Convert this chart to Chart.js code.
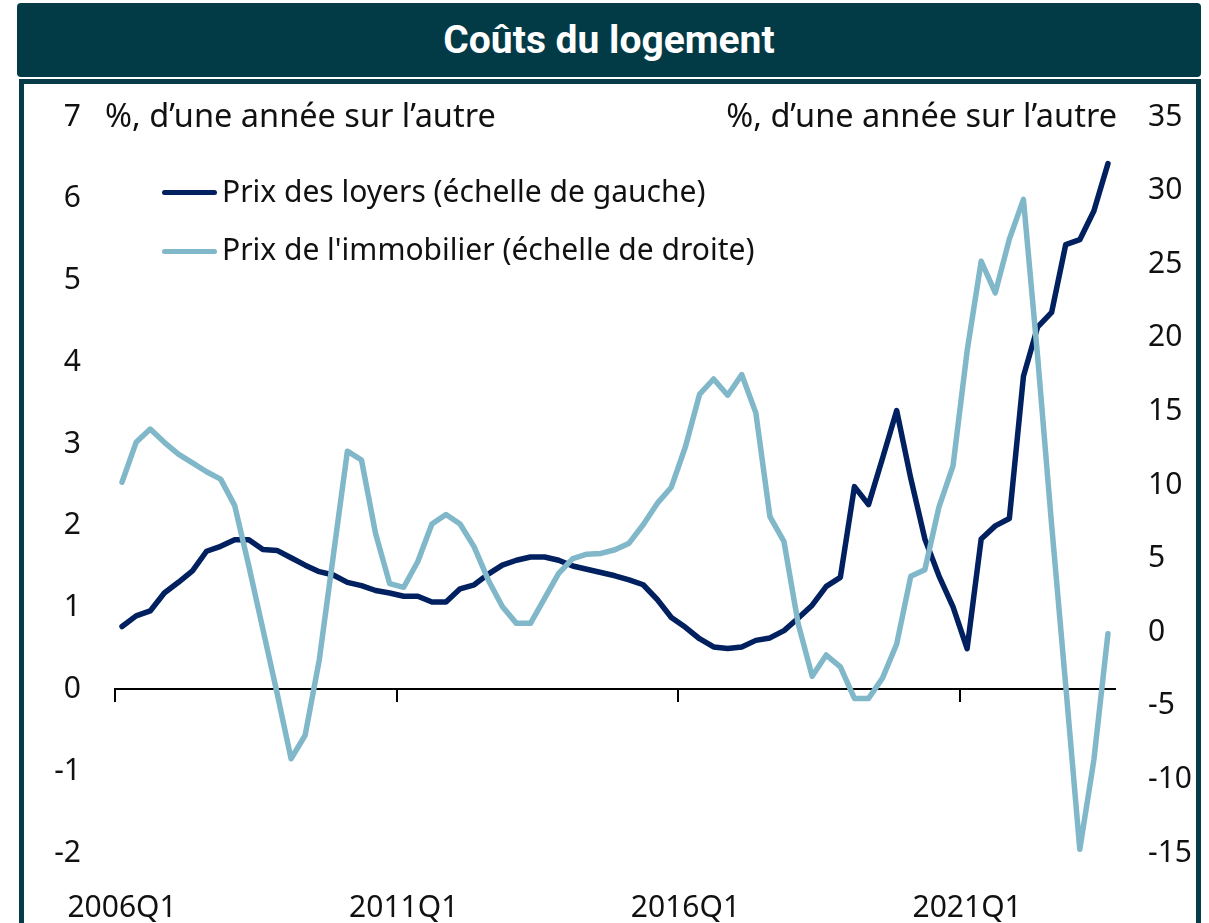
<!DOCTYPE html>
<html>
<head>
<meta charset="utf-8">
<title>Coûts du logement</title>
<script src="https://cdn.jsdelivr.net/npm/chart.js@4.4.1/dist/chart.umd.min.js"></script>
<style>
  body { margin: 0; width: 1209px; height: 923px; overflow: hidden; background: #fff; font-family: "Noto Sans", sans-serif; color: #111; }
  #title { position: absolute; left: 17px; top: 3px; width: 1184px; height: 74px; background: #023a46; border-radius: 4px;
    color: #fff; font: bold 39px Roboto, sans-serif; display: flex; align-items: center; justify-content: center; }
  #frame { position: absolute; left: 19px; top: 79px; width: 1182px; height: 850px; box-sizing: border-box; border: 5px solid #063b47; }
  #chart { position: absolute; left: 0; top: 0; }
  .unit { position: absolute; top: 99px; font-size: 32.5px; line-height: 32px; white-space: nowrap; }
  .leg { position: absolute; left: 162px; font-size: 30px; line-height: 30px; white-space: nowrap; }
  .leg i { position: absolute; left: 0; width: 55px; height: 5px; border-radius: 3px; }
  .leg span { position: absolute; left: 60px; }
</style>
</head>
<body>
<div id="title">Coûts du logement</div>
<div id="frame"></div>
<canvas id="chart" width="1209" height="923"></canvas>
<div class="unit" style="left:105px">%, d’une année sur l’autre</div>
<div class="unit" style="right:92px">%, d’une année sur l’autre</div>
<div class="leg" style="top:176px"><i style="background:#002060;top:14px"></i><span>Prix des loyers (échelle de gauche)</span></div>
<div class="leg" style="top:234px"><i style="background:#80b7c9;top:15px"></i><span>Prix de l'immobilier (échelle de droite)</span></div>
<script>
// 2006Q1 .. 2023Q3
const quarters = [];
for (let y = 2006; y <= 2023; y++) {
  for (let q = 1; q <= 4; q++) {
    if (y === 2023 && q > 3) break;
    quarters.push(y + "Q" + q);
  }
}
const shownQuarters = ["2006Q1", "2011Q1", "2016Q1", "2021Q1"];

// Prix des loyers, %, échelle de gauche
const rents = [
  0.77, 0.90, 0.96, 1.18, 1.31, 1.45, 1.69, 1.75, 1.83, 1.83,
  1.71, 1.70, 1.61, 1.52, 1.44, 1.40, 1.31, 1.27, 1.21, 1.18,
  1.14, 1.14, 1.07, 1.07, 1.23, 1.28, 1.41, 1.52, 1.58, 1.62,
  1.62, 1.58, 1.51, 1.47, 1.43, 1.39, 1.34, 1.28, 1.10, 0.88,
  0.76, 0.62, 0.52, 0.50, 0.52, 0.60, 0.63, 0.72, 0.87, 1.03,
  1.26, 1.37, 2.48, 2.26, 2.83, 3.41, 2.58, 1.84, 1.39, 1.01,
  0.50, 1.84, 2.00, 2.09, 3.83, 4.43, 4.61, 5.44, 5.50, 5.85,
  6.43
];

// Prix de l'immobilier, %, échelle de droite
const housePrices = [
  10.2, 12.9, 13.8, 12.9, 12.1, 11.5, 10.9, 10.4, 8.6, 4.5,
  0.2, -4.1, -8.6, -7.0, -1.9, 5.2, 12.3, 11.7, 6.7, 3.3,
  3.05, 4.8, 7.35, 8.0, 7.35, 5.8, 3.55, 1.75, 0.6, 0.6,
  2.3, 4.0, 5.0, 5.3, 5.35, 5.6, 6.05, 7.3, 8.75, 9.85,
  12.6, 16.15, 17.2, 16.1, 17.5, 14.9, 7.85, 6.15, 0.6, -3.0,
  -1.55, -2.35, -4.5, -4.5, -3.1, -0.8, 3.8, 4.25, 8.5, 11.3,
  19.1, 25.2, 23.05, 26.7, 29.4, 18.8, 7.3, -3.6, -14.75, -8.67,
  -0.1
];

const tickFont = { family: "Noto Sans", size: 30 };

new Chart(document.getElementById("chart"), {
  type: "line",
  data: {
    labels: quarters,
    datasets: [
      {
        label: "Prix des loyers (échelle de gauche)",
        data: rents,
        yAxisID: "y",
        borderColor: "#002060",
        borderWidth: 5.5,
        order: 1
      },
      {
        label: "Prix de l'immobilier (échelle de droite)",
        data: housePrices,
        yAxisID: "y2",
        borderColor: "#80b7c9",
        borderWidth: 5.5,
        order: 0
      }
    ]
  },
  options: {
    responsive: false,
    animation: false,
    devicePixelRatio: 1,
    layout: { padding: { top: 117, left: 0, right: 0, bottom: 0 } },
    elements: {
      point: { radius: 0 },
      line: { tension: 0, borderJoinStyle: "round", borderCapStyle: "round" }
    },
    plugins: { legend: { display: false }, tooltip: { enabled: false } },
    scales: {
      x: {
        offset: true,
        grid: { display: false },
        border: { display: false },
        ticks: {
          autoSkip: false,
          maxRotation: 0,
          padding: 29,
          color: "#111",
          font: tickFont,
          callback: function (v, i) {
            const lab = quarters[i];
            return shownQuarters.includes(lab) ? lab : "";
          }
        },
        afterFit: (s) => { s.height = 70; }
      },
      x2: {
        type: "category",
        position: { y: 0 },
        offset: true,
        grid: {
          offset: true,
          drawOnChartArea: false,
          drawTicks: true,
          tickLength: 12,
          lineWidth: 2,
          color: (ctx) => (ctx.index < quarters.length && shownQuarters.includes(quarters[ctx.index]) ? "#000" : "rgba(0,0,0,0)")
        },
        border: { display: true, color: "#000", width: 2 },
        ticks: { display: false, autoSkip: false }
      },
      y: {
        position: "left",
        min: -2,
        max: 7,
        ticks: { stepSize: 1, padding: 34, color: "#111", font: tickFont },
        grid: { display: false, drawTicks: false },
        border: { display: false },
        afterFit: (s) => { s.width = 115; }
      },
      y2: {
        position: "right",
        min: -15,
        max: 35,
        ticks: { stepSize: 5, padding: 33, color: "#111", font: tickFont },
        grid: { display: false, drawTicks: false },
        border: { display: false },
        afterFit: (s) => { s.width = 94; }
      }
    }
  }
});
</script>
</body>
</html>
